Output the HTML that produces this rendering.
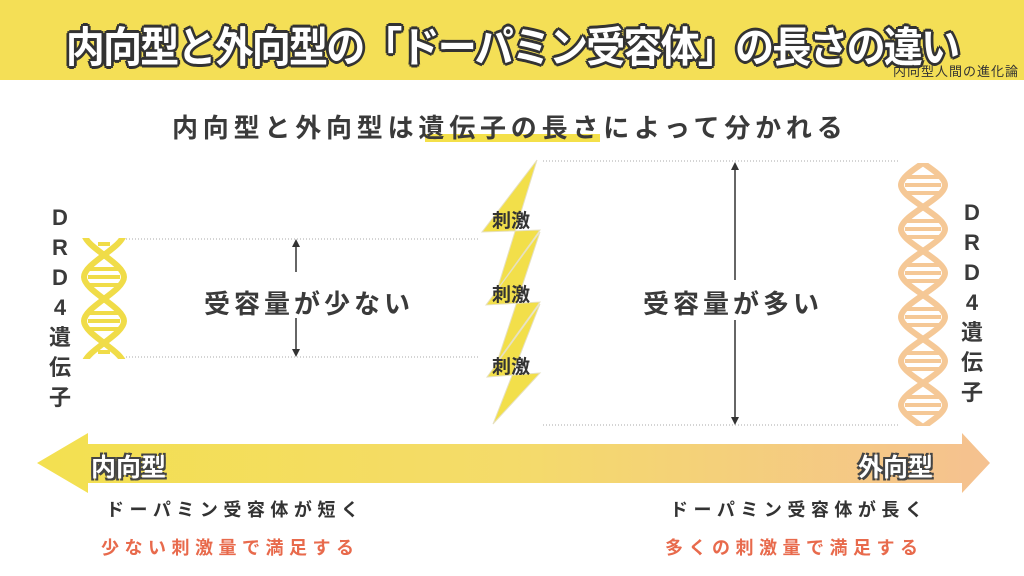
<!DOCTYPE html>
<html><head><meta charset="utf-8"><style>
*{margin:0;padding:0;box-sizing:border-box}
body{width:1024px;height:576px;overflow:hidden;background:#fff;font-family:"Liberation Sans","Noto Sans CJK JP",sans-serif;position:relative;color:#3a3a3a}
.a{position:absolute;white-space:nowrap}
.band{position:absolute;left:0;top:0;width:1024px;height:80px;background:#f4df56}
.title{left:0;width:1024px;top:14px;text-align:center;font-size:42px;font-weight:bold;color:#fff;letter-spacing:-2px;transform:scaleX(0.93);
 text-shadow:-2px -2px 0 #333,2px -2px 0 #333,-2px 2px 0 #333,2px 2px 0 #333,0 3px 0 #333,0 -3px 0 #333,3px 0 0 #333,-3px 0 0 #333}
.wm{left:893px;top:61px;font-size:13px;color:#333;letter-spacing:1px}
.sub{left:172px;top:108px;font-size:26px;font-weight:bold;letter-spacing:4.8px;color:#3a3a3a}
.ul{left:425px;top:134px;width:175px;height:8px;background:#f4e04a}
.vt{font-size:22px;font-weight:bold;line-height:30px;text-align:center;width:30px}
.lbl{font-size:26px;font-weight:bold;letter-spacing:4px}
.sg{font-size:19px;font-weight:bold;color:#333}
.bt{font-size:18px;font-weight:bold;letter-spacing:5.5px}
.out{color:#fff;font-size:25px;font-weight:bold;text-shadow:-2px -2px 0 #444,2px -2px 0 #444,-2px 2px 0 #444,2px 2px 0 #444}
</style></head><body>
<div class="band"></div>
<div class="a title">内向型と外向型の「ドーパミン受容体」の長さの違い</div>
<div class="a wm">内向型人間の進化論</div>
<div class="a ul"></div>
<div class="a sub">内向型と外向型は遺伝子の長さによって分かれる</div>

<svg class="a" style="left:0;top:0" width="1024" height="576">
<defs>
<linearGradient id="g" x1="0" x2="1"><stop offset="0" stop-color="#f3e050"/><stop offset="0.5" stop-color="#f4db6a"/><stop offset="1" stop-color="#f5c190"/></linearGradient>
<clipPath id="cl"><rect x="70" y="238" width="70" height="121"/></clipPath>
<clipPath id="cr"><rect x="890" y="163" width="70" height="263"/></clipPath>
</defs>
<g stroke="#aaa" stroke-width="1" stroke-dasharray="1,2">
<line x1="126" y1="239" x2="480" y2="239"/><line x1="126" y1="357" x2="480" y2="357"/>
<line x1="543" y1="161" x2="900" y2="161"/><line x1="543" y1="425" x2="900" y2="425"/>
</g>
<g stroke="#333" stroke-width="1.5" fill="#333">
<line x1="296" y1="245" x2="296" y2="272"/><polygon points="292,247 300,247 296,239" stroke="none"/>
<line x1="296" y1="318" x2="296" y2="350"/><polygon points="292,349 300,349 296,357" stroke="none"/>
<line x1="735" y1="170" x2="735" y2="280"/><polygon points="731,170 739,170 735,162" stroke="none"/>
<line x1="735" y1="320" x2="735" y2="418"/><polygon points="731,417 739,417 735,425" stroke="none"/>
</g>
<g clip-path="url(#cl)" fill="none" stroke="#f0dc48" stroke-width="6">
<path d="M84,233 C84,247 124,263 124,277 S84,307 84,321 S124,351 124,365"/>
<path d="M124,233 C124,247 84,263 84,277 S124,307 124,321 S84,351 84,365"/>
</g>
<g stroke="#f0dc48" stroke-width="4">
<line x1="90" y1="269" x2="118" y2="269"/><line x1="88" y1="277" x2="120" y2="277"/><line x1="90" y1="285" x2="118" y2="285"/>
<line x1="90" y1="313" x2="118" y2="313"/><line x1="88" y1="321" x2="120" y2="321"/><line x1="90" y1="329" x2="118" y2="329"/>
<line x1="98" y1="244" x2="110" y2="244"/><line x1="98" y1="352" x2="110" y2="352"/>
</g>
<g clip-path="url(#cr)" fill="none" stroke="#f5c896" stroke-width="6">
<path d="M901,141 C901,155 945,171 945,185 S901,215 901,229 S945,259 945,273 S901,303 901,317 S945,347 945,361 S901,391 901,405 S945,435 945,449"/>
<path d="M945,141 C945,155 901,171 901,185 S945,215 945,229 S901,259 901,273 S945,303 945,317 S901,347 901,361 S945,391 945,405 S901,435 901,449"/>
</g>
<g stroke="#f5c896" stroke-width="4">
<line x1="907" y1="177" x2="939" y2="177"/><line x1="905" y1="185" x2="941" y2="185"/><line x1="907" y1="193" x2="939" y2="193"/>
<line x1="907" y1="221" x2="939" y2="221"/><line x1="905" y1="229" x2="941" y2="229"/><line x1="907" y1="237" x2="939" y2="237"/>
<line x1="907" y1="265" x2="939" y2="265"/><line x1="905" y1="273" x2="941" y2="273"/><line x1="907" y1="281" x2="939" y2="281"/>
<line x1="907" y1="309" x2="939" y2="309"/><line x1="905" y1="317" x2="941" y2="317"/><line x1="907" y1="325" x2="939" y2="325"/>
<line x1="907" y1="353" x2="939" y2="353"/><line x1="905" y1="361" x2="941" y2="361"/><line x1="907" y1="369" x2="939" y2="369"/>
<line x1="907" y1="397" x2="939" y2="397"/><line x1="905" y1="405" x2="941" y2="405"/><line x1="907" y1="413" x2="939" y2="413"/>
</g>
<g fill="#f2df4a" stroke="#e6e0c0" stroke-width="1">
<polygon points="537,160 482,232 540,230 497,290"/>
<polygon points="540,232 486,305 540,302 497,362"/>
<polygon points="540,304 487,377 540,373 493,424"/>
</g>
<polygon points="37,463 88,433 88,444 962,444 962,433 990,463 962,493 962,483 88,483 88,493" fill="url(#g)"/>
</svg>

<div class="a vt" style="left:45px;top:203px">D<br>R<br>D<br>4<br>遺<br>伝<br>子</div>
<div class="a vt" style="left:957px;top:198px">D<br>R<br>D<br>4<br>遺<br>伝<br>子</div>
<div class="a lbl" style="left:204px;top:284px">受容量が少ない</div>
<div class="a lbl" style="left:643px;top:284px">受容量が多い</div>
<div class="a sg" style="left:492px;top:206px">刺激</div>
<div class="a sg" style="left:492px;top:280px">刺激</div>
<div class="a sg" style="left:492px;top:352px">刺激</div>
<div class="a out" style="left:91px;top:448px">内向型</div>
<div class="a out" style="left:858px;top:448px">外向型</div>
<div class="a bt" style="left:106px;top:496px;color:#333">ドーパミン受容体が短く</div>
<div class="a bt" style="left:101px;top:534px;color:#e86a4c">少ない刺激量で満足する</div>
<div class="a bt" style="left:670px;top:496px;color:#333">ドーパミン受容体が長く</div>
<div class="a bt" style="left:665px;top:534px;color:#e86a4c">多くの刺激量で満足する</div>
</body></html>
